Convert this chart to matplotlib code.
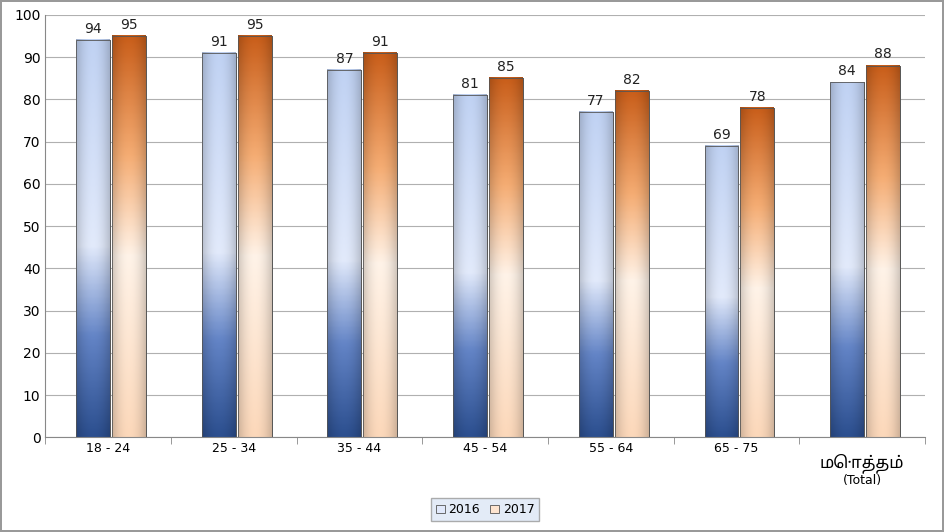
import matplotlib
matplotlib.use('Agg')
import matplotlib.pyplot as plt
import numpy as np
from matplotlib.colors import LinearSegmentedColormap

categories = ['18 - 24', '25 - 34', '35 - 44', '45 - 54', '55 - 64', '65 - 75', 'மொத்தம்\n(Total)']
values_2016 = [94, 91, 87, 81, 77, 69, 84]
values_2017 = [95, 95, 91, 85, 82, 78, 88]

blue_cmap = LinearSegmentedColormap.from_list(
    'b', [(0, '#2c4f8f'), (0.25, '#6384c6'), (0.48, '#e2eafb'), (1, '#c0d2f3')], N=256)
orange_cmap = LinearSegmentedColormap.from_list(
    'o', [(0, '#fcd8ba'), (0.45, '#fff3e8'), (0.7, '#f5ad74'), (1, '#c95e1a')], N=256)

fig, ax = plt.subplots(figsize=(9.44, 5.32), dpi=100)
fig.subplots_adjust(left=0.048, right=0.98, top=0.972, bottom=0.178)
fig.patch.set_edgecolor('#999999')
fig.patch.set_linewidth(1.5)

w = 0.27
x = np.arange(len(categories))


def draw_bars(offset, vals, cmap, label):
    bars = ax.bar(x + offset, vals, w, color=cmap(0.5), edgecolor='#555555', linewidth=0.6, label=label, zorder=2)
    for b, v in zip(bars, vals):
        vert = np.linspace(0, 1, 200)[:, None]
        horiz = np.linspace(-1, 1, 40)[None, :]
        rgb = cmap(np.repeat(vert, 40, axis=1))[:, :, :3]
        shade = 1 - 0.18 * horiz ** 2
        rgb = rgb * shade[:, :, None]
        x0 = b.get_x()
        ax.imshow(rgb, extent=(x0, x0 + w, 0, v), origin='lower', aspect='auto', zorder=2.5, interpolation='bilinear')
        ax.add_patch(plt.Rectangle((x0, 0), w, v, fill=False, edgecolor='#555555', linewidth=0.6, zorder=3))
        ax.text(x0 + w / 2, v + 1.0, str(v), ha='center', va='bottom', fontsize=10, color='#222222', zorder=4)


draw_bars(-0.12, values_2016, blue_cmap, '2016')
draw_bars(0.165, values_2017, orange_cmap, '2017')

ax.set_xlim(-0.5, len(categories) - 0.5)
ax.set_ylim(0, 100)
ax.set_yticks(range(0, 101, 10))
ax.set_xticks(x)
ax.set_xticklabels(categories[:-1] + [''], fontsize=9)
ax.text(x[-1], -3.8, 'மொத்தம்', ha='center', va='top', fontsize=12,
        family=['Noto Sans Tamil', 'Lohit Tamil', 'Noto Sans', 'DejaVu Sans'])
ax.text(x[-1], -8.8, '(Total)', ha='center', va='top', fontsize=9)
ax.tick_params(axis='y', labelsize=10, length=0)
ax.set_xticks(np.arange(-0.5, len(categories)), minor=True)
ax.tick_params(axis='x', which='minor', length=5, color='#888888')
ax.tick_params(axis='x', which='major', length=0)
ax.yaxis.grid(True, color='#b0b0b0', linewidth=0.8, zorder=0)
ax.set_axisbelow(True)
for s in ['top', 'right']:
    ax.spines[s].set_visible(False)
ax.spines['left'].set_color('#888888')
ax.spines['bottom'].set_color('#888888')

leg = ax.legend(loc='upper center', bbox_to_anchor=(0.5, -0.13), ncol=2, fontsize=9,
                frameon=True, fancybox=False, handlelength=0.7, handletextpad=0.3, columnspacing=0.8)
leg.get_frame().set_edgecolor('#999999')
leg.get_frame().set_facecolor('#dde6f5')

plt.savefig('out.png', dpi=100)
